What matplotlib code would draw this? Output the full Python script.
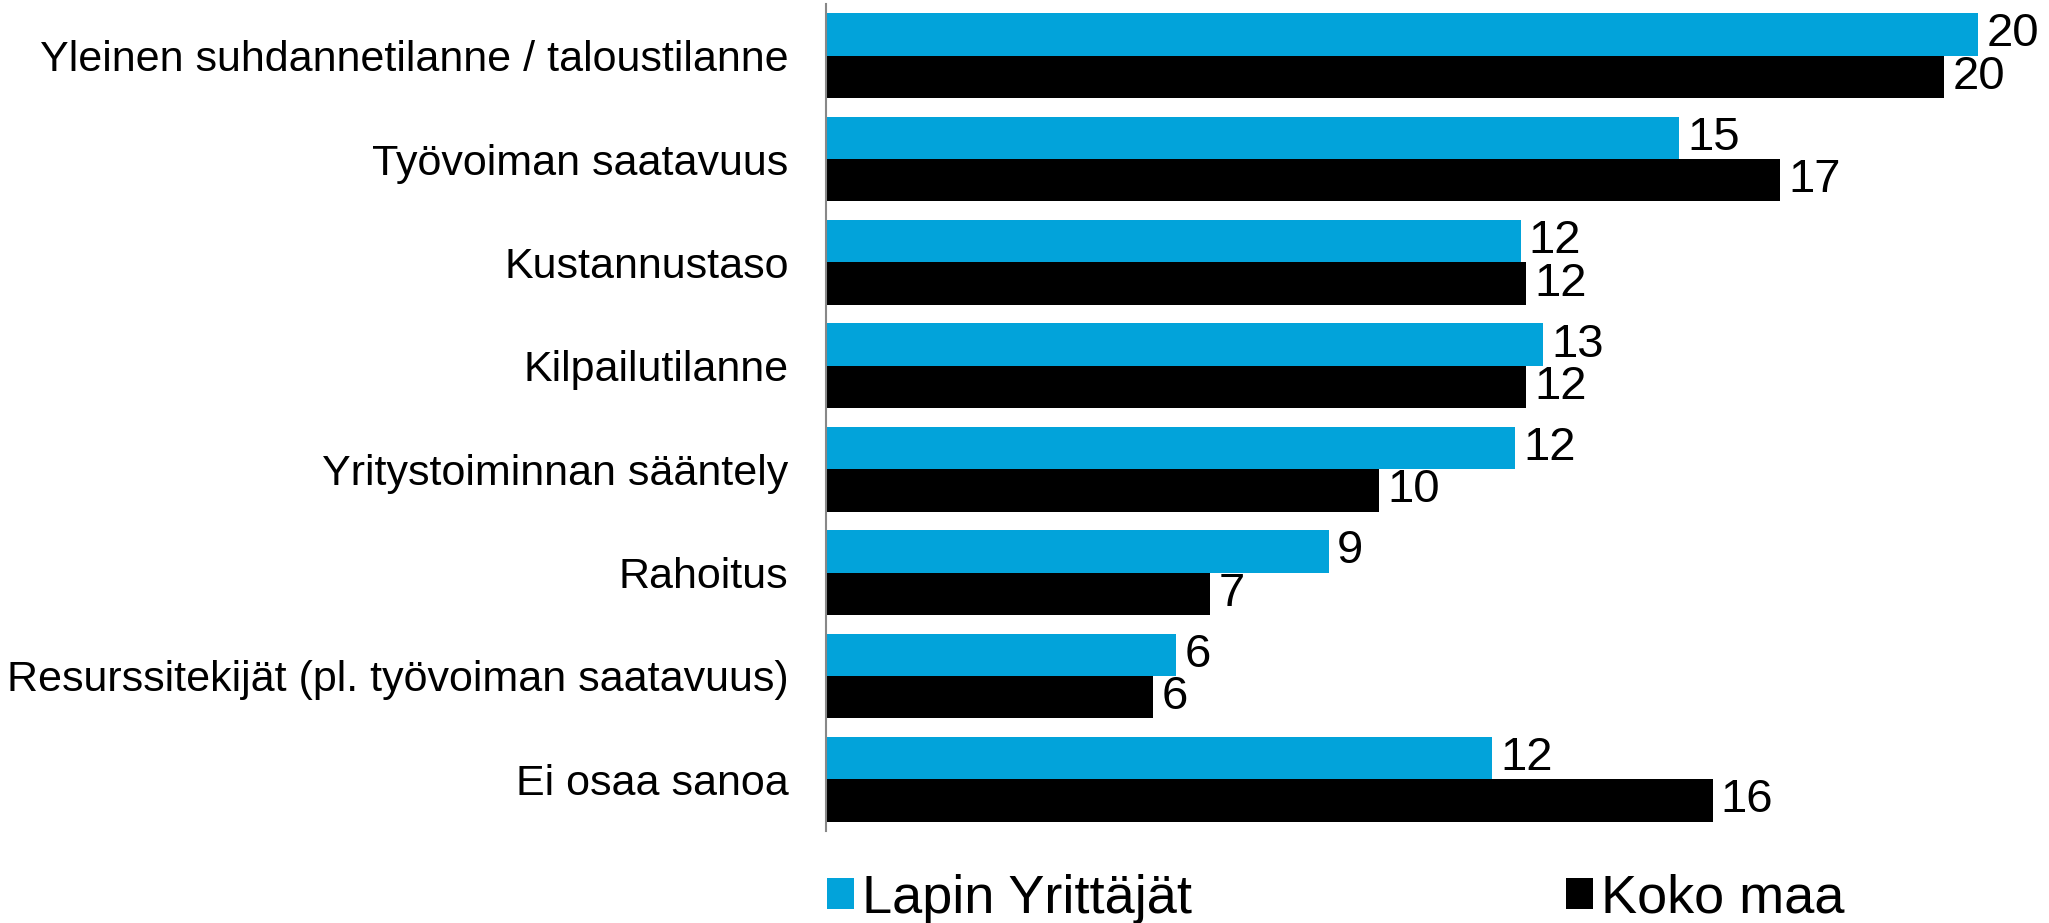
import matplotlib.pyplot as plt
import numpy as np

plt.rcParams['font.family'] = ['Liberation Sans', 'DejaVu Sans']

categories = ["Yleinen suhdannetilanne / taloustilanne",
              "Työvoiman saatavuus",
              "Kustannustaso",
              "Kilpailutilanne",
              "Yritystoiminnan sääntely",
              "Rahoitus",
              "Resurssitekijät (pl. työvoiman saatavuus)",
              "Ei osaa sanoa"]
lappi = [20.4, 15.1, 12.3, 12.7, 12.2, 8.9, 6.2, 11.8]
koko_maa = [19.8, 16.9, 12.4, 12.4, 9.8, 6.8, 5.8, 15.7]
series_names = ["Lapin Yrittäjät", "Koko maa"]
colors = ["#02A3DA", "#000000"]

fig = plt.figure(figsize=(20.49, 9.23), dpi=100)
ax = fig.add_axes([826 / 2049, 0.0997, (2040 - 826) / 2049, 0.8960])

y = np.arange(len(categories))
h = 0.41
b1 = ax.barh(y - h / 2, lappi, height=h, color=colors[0], label=series_names[0])
b2 = ax.barh(y + h / 2, koko_maa, height=h, color=colors[1], label=series_names[1])
ax.bar_label(b1, fmt="%.0f", padding=6, fontsize=34)
ax.bar_label(b2, fmt="%.0f", padding=6, fontsize=34)

ax.set_ylim(len(categories) - 0.5, -0.5)
ax.set_xlim(0, 21.5)
ax.set_yticks(y)
ax.set_yticklabels(categories, fontsize=31)
ax.tick_params(axis="y", length=0, pad=27)
ax.set_xticks([])
for s in ["top", "right", "bottom"]:
    ax.spines[s].set_visible(False)
ax.spines["left"].set_color("#888888")
ax.spines["left"].set_linewidth(1.5)

ax.legend(loc="center left", bbox_to_anchor=(-0.017, -0.082), ncol=2, frameon=False,
          fontsize=39, handlelength=0.5, handleheight=0.5, handletextpad=0.15,
          columnspacing=6.9, borderaxespad=0)

fig.savefig("out.png", dpi=100)
